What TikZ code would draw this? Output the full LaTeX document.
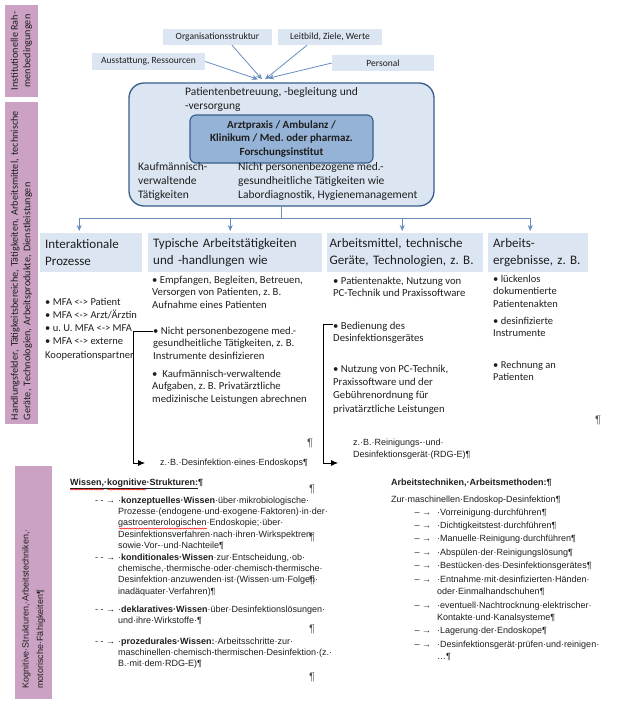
\documentclass[tikz,border=0pt]{standalone}
\usepackage{fontspec}
\setmainfont{Carlito}
\newfontfamily\wordfont{Liberation Sans}
\usetikzlibrary{arrows.meta,decorations.pathmorphing}

\definecolor{barpink}{RGB}{204,162,196}
\definecolor{paleblue}{RGB}{220,230,242}
\definecolor{midblue}{RGB}{149,179,215}
\definecolor{darkblue}{RGB}{56,93,138}
\definecolor{linkblue}{RGB}{103,140,190}
\definecolor{ink}{RGB}{30,30,30}

\newcommand\wissenspunkt{\llap{-\ -\ →\hspace{3pt}}}
\newcommand\schritt{\llap{–\ →\hspace{6pt}}}

\tikzset{
  bar/.style={fill=barpink, rotate=90, inner sep=0pt, text=ink},
  topbox/.style={fill=paleblue, inner sep=0pt, font=\fontsize{9.5}{11}\selectfont, text=ink},
  hdr/.style={fill=paleblue, anchor=north west, minimum height=39pt, inner xsep=5pt, inner ysep=0pt,
    align=left, font=\fontsize{13}{16.5}\selectfont, text=ink},
  item/.style={anchor=north west, inner sep=0pt, align=left, font=\fontsize{10.7}{12.7}\selectfont, text=ink},
  wtext/.style={anchor=north west, inner sep=0pt, align=left, font=\wordfont\fontsize{9}{11.3}\selectfont, text=ink},
  wbold/.style={wtext, font=\wordfont\bfseries\fontsize{9}{11.3}\selectfont},
  pilcrow/.style={inner sep=0pt, font=\wordfont\fontsize{11}{11}\selectfont, text=black!65},
  bluelink/.style={draw=linkblue, line width=0.8pt},
  bluearrow/.style={bluelink, -{Stealth[length=6pt,width=5pt]}},
  wordline/.style={draw=black, line width=0.8pt},
  wordarrow/.style={wordline, -{Latex[length=7pt,width=6pt]}},
  spell/.style={draw=red, line width=0.5pt, decorate, decoration={snake, amplitude=0.6pt, segment length=2.5pt}}
}

\begin{document}
\frenchspacing
\begin{tikzpicture}[x=1pt,y=-1pt]
\useasboundingbox (0,0) rectangle (618,704);

% Seitenleisten
\node (instbar) [bar, minimum width=92pt, minimum height=33pt, align=center, font=\fontsize{10.2}{12.5}\selectfont] at (21.5,51) {Institutionelle Rah-\\menbedingungen};
\node (handbar) [bar, minimum width=322pt, minimum height=33pt, text width=314pt, align=left, font=\fontsize{10.2}{12.5}\selectfont] at (21.5,263) {Handlungsfelder, Tätigkeitsbereiche, Tätigkeiten, Arbeitsmittel, technische\\Geräte, Technologien, Arbeitsprodukte, Dienstleistungen};
\node (kogbar) [bar, minimum width=233pt, minimum height=37pt, text width=212pt, align=left, font=\wordfont\fontsize{9}{14.5}\selectfont] at (33.5,582.5) {Kognitive·Strukturen,·Arbeitstechniken,·\\motorische·Fähigkeiten¶};

% Rahmenbedingungen
\node (orga) [topbox, minimum width=109pt, minimum height=16pt] at (217.5,37) {Organisationsstruktur};
\node (leit) [topbox, minimum width=104pt, minimum height=16pt] at (330,37) {Leitbild, Ziele, Werte};
\node (ausst) [topbox, minimum width=113pt, minimum height=17pt] at (148.5,61.5) {Ausstattung, Ressourcen};
\node (pers) [topbox, minimum width=102pt, minimum height=16pt] at (383,63) {Personal};

% Einrichtung
\node (setting) [draw=darkblue, line width=1.3pt, fill=paleblue, rounded corners=15pt, minimum width=305pt, minimum height=123pt] at (281.5,144.5) {};
\node (praxis) [draw=darkblue, line width=1.1pt, fill=midblue, rounded corners=6pt, minimum width=183pt, minimum height=48pt, align=center, text=ink, font=\bfseries\fontsize{11}{13.5}\selectfont] at (281.5,139) {Arztpraxis / Ambulanz /\\Klinikum / Med. oder pharmaz.\\Forschungsinstitut};
\node (care) [item, font=\fontsize{11.5}{14}\selectfont] at (185,87) {Patientenbetreuung, -begleitung und\\-versorgung};
\node (kauf) [item, font=\fontsize{11.5}{14.3}\selectfont] at (138,162) {Kaufmännisch-\\verwaltende\\Tätigkeiten};
\node (labor) [item, font=\fontsize{11.5}{14.3}\selectfont] at (238,162) {Nicht personenbezogene med.-\\gesundheitliche Tätigkeiten wie\\Labordiagnostik, Hygienemanagement};

\draw [bluearrow] (ausst.east) -- ([xshift=-23.5pt,yshift=3pt]setting.north);
\draw [bluearrow] ([xshift=14.5pt]orga.south) -- ([xshift=-19.5pt,yshift=3pt]setting.north);
\draw [bluearrow] ([xshift=-23pt]leit.south) -- ([xshift=-16.5pt,yshift=3pt]setting.north);
\draw [bluearrow] (pers.west) -- ([xshift=-13.5pt,yshift=4pt]setting.north);

% Kategorien
\node (interak) [hdr, text width=92pt] at (40,233) {Interaktionale\\Prozesse};
\node (typ) [hdr, text width=164pt] at (148,233) {Typische Arbeitstätigkeiten\\und -handlungen wie};
\node (mittel) [hdr, text width=151pt, inner xsep=2.5pt] at (327,233) {Arbeitsmittel, technische\\Geräte, Technologien, z. B.};
\node (ergeb) [hdr, text width=90pt] at (488,233) {Arbeits-\\ergebnisse, z. B.};

\coordinate (bus) at (281.5,218);
\draw [bluelink] (setting.south) -- (bus);
\draw [bluearrow] (bus) -| ([xshift=-12pt,yshift=2pt]interak.north);
\draw [bluearrow] (bus) -| ([xshift=-5pt,yshift=2pt]typ.north);
\draw [bluearrow] (bus) -| ([xshift=-3pt,yshift=2pt]mittel.north);
\draw [bluearrow] (bus) -| ([xshift=-8pt,yshift=2pt]ergeb.north);

% Inhalte
\node (mfa) [item, font=\fontsize{10.5}{13.3}\selectfont] at (45,297.6) {• MFA <-> Patient\\• MFA <-> Arzt/Ärztin\\• u. U. MFA <-> MFA\\• MFA <-> externe\\Kooperationspartner};
\node (empf) [item] at (152,275.6) {• Empfangen, Begleiten, Betreuen,\\Versorgen von Patienten, z. B.\\Aufnahme eines Patienten};
\node (nicht) [item] at (153,326.6) {• Nicht personenbezogene med.-\\gesundheitliche Tätigkeiten, z. B.\\Instrumente desinfizieren};
\node (kaufm) [item] at (152,369.6) {•\ \ Kaufmännisch-verwaltende\\Aufgaben, z. B. Privatärztliche\\medizinische Leistungen abrechnen};
\node (akte) [item] at (333,276.6) {• Patientenakte, Nutzung von\\PC-Technik und Praxissoftware};
\node (bedien) [item] at (333,321.6) {• Bedienung des\\Desinfektionsgerätes};
\node (pcnutz) [item, font=\fontsize{10.7}{13.3}\selectfont] at (333,364.6) {• Nutzung von PC-Technik,\\Praxissoftware und der\\Gebührenordnung für\\privatärztliche Leistungen};
\node (doku) [item, font=\fontsize{10.5}{12.5}\selectfont] at (493,274.6) {• lückenlos\\dokumentierte\\Patientenakten};
\node (desinf) [item, font=\fontsize{10.5}{12.7}\selectfont] at (493,316.6) {• desinfizierte\\Instrumente};
\node (rechn) [item, font=\fontsize{10.5}{12.7}\selectfont] at (493,360.6) {• Rechnung an\\Patienten};

% Absatzmarken
\node (absatz1) [pilcrow] at (598,420) {¶};
\node (absatz2) [pilcrow] at (310,443) {¶};
\node (absatz3) [pilcrow] at (312,489) {¶};
\node (absatz4) [pilcrow] at (312,537) {¶};
\node (absatz5) [pilcrow] at (312,580) {¶};
\node (absatz6) [pilcrow] at (312,629) {¶};
\node (absatz7) [pilcrow] at (312,677) {¶};

% Beispiele
\node (endo) [wtext, anchor=west, inner xsep=15pt] at (145,463) {z.·B.·Desinfektion·eines·Endoskops¶};
\node (rdg) [wtext, font=\wordfont\fontsize{9}{12}\selectfont] at (353,438.4) {z.·B.·Reinigungs-·und·\\Desinfektionsgerät·(RDG-E)¶};
\coordinate (knick1) at (133,331);
\draw [wordline] (knick1) -- (knick1 -| nicht.west);
\draw [wordarrow] (knick1) |- (endo.west);
\coordinate (knick2) at (323,324.5);
\coordinate (rdgtip) at (338,463);
\draw [wordline] (knick2) -- (knick2 -| bedien.west);
\draw [wordarrow] (knick2) |- (rdgtip);

% Wissen
\node (wissen) [wbold] at (70,478.4) {\underline{Wissen,·kognitive·Strukturen:}¶};
\node (konz) [wtext] at (118,496.4) {\wissenspunkt·\textbf{konzeptuelles·Wissen}·über·mikrobiologische·\\Prozesse·(endogene·und·exogene·Faktoren)·in·der·\\gastroenterologischen·Endoskopie;·über·\\Desinfektionsverfahren·nach·ihren·Wirkspektren·\\sowie·Vor-·und·Nachteile¶};
\node (kond) [wtext] at (118,553.4) {\wissenspunkt·\textbf{konditionales·Wissen}·zur·Entscheidung,·ob·\\chemische,·thermische·oder·chemisch-thermische·\\Desinfektion·anzuwenden·ist·(Wissen·um·Folgen·\\inadäquater·Verfahren)¶};
\node (dekl) [wtext] at (118,605.4) {\wissenspunkt·\textbf{deklaratives·Wissen}·über·Desinfektionslösungen·\\und·ihre·Wirkstoffe·¶};
\node (proz) [wtext] at (118,637.4) {\wissenspunkt·\textbf{prozedurales·Wissen:}·Arbeitsschritte·zur·\\maschinellen·chemisch-thermischen·Desinfektion·(z.·\\B.·mit·dem·RDG-E)¶};
\draw [spell] (70,489.5) -- (104,489.5);
\draw [spell] (107,489.5) -- (146,489.5);
\draw [spell] (119,528.5) -- (207,528.5);

% Arbeitstechniken
\node (techn) [wbold] at (391,478.4) {Arbeitstechniken,·Arbeitsmethoden:¶};
\node (zur) [wtext] at (391,495.4) {Zur·maschinellen·Endoskop-Desinfektion¶};
\node (schritte) [wtext, font=\wordfont\fontsize{9}{12.5}\selectfont] at (437,508.4) {\schritt·Vorreinigung·durchführen¶\\[0.9pt]
  \schritt·Dichtigkeitstest·durchführen¶\\[0.9pt]
  \schritt·Manuelle·Reinigung·durchführen¶\\[0.9pt]
  \schritt·Abspülen·der·Reinigungslösung¶\\[0.9pt]
  \schritt·Bestücken·des·Desinfektionsgerätes¶\\[0.9pt]
  \schritt·Entnahme·mit·desinfizierten·Händen·\\oder·Einmalhandschuhen¶\\[0.9pt]
  \schritt·eventuell·Nachtrocknung·elektrischer·\\Kontakte·und·Kanalsysteme¶\\[0.9pt]
  \schritt·Lagerung·der·Endoskope¶\\[0.9pt]
  \schritt·Desinfektionsgerät·prüfen·und·reinigen·\\…¶};
\end{tikzpicture}
\end{document}
